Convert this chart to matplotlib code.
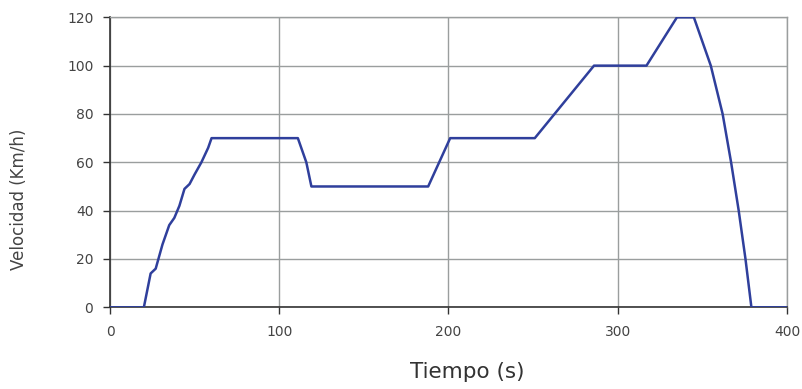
import matplotlib
matplotlib.use("Agg")
import matplotlib.pyplot as plt

# EUDC speed profile (time in s, speed in km/h)
tiempo = [0, 20, 24, 27, 31, 35, 38, 41, 44, 47, 50, 54, 58, 60, 111, 113, 116, 119,
          188, 201, 251, 286, 317, 335, 345, 350, 355, 362, 367, 371.5, 375.5, 379, 400]
velocidad = [0, 0, 14, 16, 26, 34, 37, 42, 49, 51, 55, 60, 66, 70, 70, 66, 60, 50,
             50, 70, 70, 100, 100, 120, 120, 110, 100, 80, 60, 40, 20, 0, 0]

x_ticks = [0, 100, 200, 300, 400]
y_ticks = [0, 20, 40, 60, 80, 100, 120]

fig = plt.figure(figsize=(8.03, 3.89), dpi=100)
ax = fig.add_axes([0.137, 0.21, 0.843, 0.7455])

ax.plot(tiempo, velocidad, color="#2f3f9c", linewidth=1.8, solid_joinstyle="round", zorder=3)

ax.set_xlim(0, 400)
ax.set_ylim(0, 120)
ax.set_xticks(x_ticks)
ax.set_yticks(y_ticks)
ax.grid(True, color="#9a9e9e", linewidth=1.0)
ax.set_axisbelow(True)

for side in ["top", "right"]:
    ax.spines[side].set_color("#9a9e9e")
    ax.spines[side].set_linewidth(1.0)
for side in ["left", "bottom"]:
    ax.spines[side].set_color("#333333")
    ax.spines[side].set_linewidth(1.2)

ax.tick_params(axis="both", direction="out", length=5, width=1, color="#333333",
               labelsize=10, labelcolor="#444444")
ax.tick_params(axis="y", pad=7)
ax.tick_params(axis="x", pad=8)

fig.text(19 / 803, 1 - 199 / 389, "Velocidad (Km/h)", rotation=90, ha="center", va="center",
         fontsize=12, color="#444444")
fig.text(467 / 803, 1 - 372 / 389, "Tiempo (s)", ha="center", va="center", fontsize=15.5, color="#333333")

fig.savefig("out.png", dpi=100)
